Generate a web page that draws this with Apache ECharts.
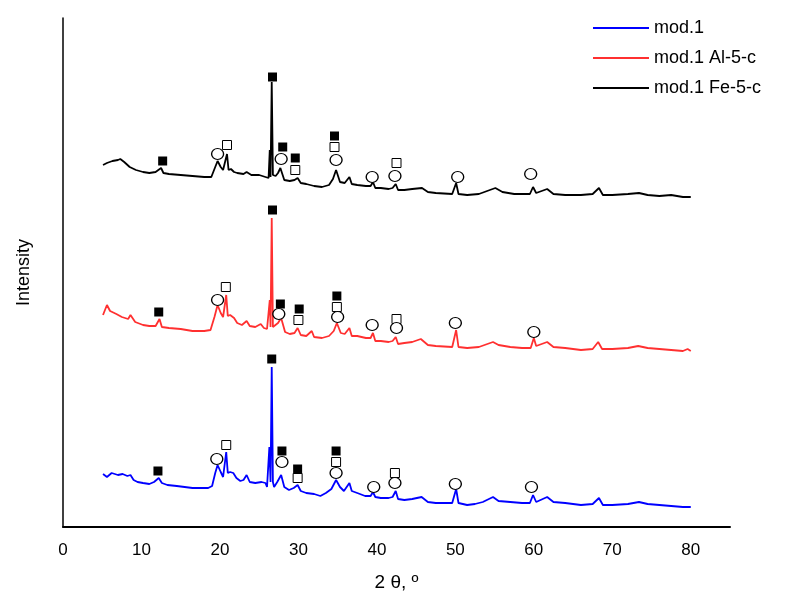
<!DOCTYPE html>
<html>
<head>
	<meta charset="utf-8"/>
	<title>XRD</title>
	<style>
		* { margin: 0; padding: 0; }
		html, body { width: 100%; height: 100%; background: #fff; }
		#main { width: 801px; height: 605px; }
	</style>
</head>
<body>
	<div id="main"></div>
	<script src="https://cdn.jsdelivr.net/npm/echarts@6/dist/echarts.min.js"></script>
	<script>
		// [2theta, intensity offset]
		var mod1 = [[5.1, 53], [5.6, 50], [6.2, 54], [7.0, 52], [7.6, 53], [8.2, 51], [8.6, 52], [9.0, 47], [9.5, 45], [10.2, 44], [11.0, 43], [11.6, 45], [12.2, 49], [12.6, 44], [13.3, 42], [14.5, 41], [15.5, 40], [16.5, 39], [17.5, 39], [18.5, 39], [19.0, 41], [19.4, 54], [19.7, 62], [20.1, 55], [20.4, 50], [20.8, 75], [21.0, 54], [21.3, 55], [21.7, 54], [22.1, 49], [22.6, 46], [23.0, 47], [23.4, 52], [23.8, 45], [24.5, 44], [25.3, 45], [25.8, 44], [26.0, 40], [26.3, 80], [26.45, 45], [26.6, 160], [26.75, 45], [26.9, 40], [27.3, 45], [27.8, 52], [28.2, 40], [28.8, 37], [29.4, 39], [29.9, 42], [30.3, 36], [31.0, 34], [32.0, 33], [32.8, 31], [33.5, 34], [34.2, 38], [34.8, 47], [35.3, 40], [35.8, 36], [36.5, 44], [36.8, 36], [37.5, 34], [38.5, 31], [39.2, 31], [39.5, 35], [39.8, 30], [40.5, 29], [41.5, 29], [42.0, 30], [42.4, 36], [42.7, 28], [43.5, 27], [44.5, 28], [45.7, 30], [46.5, 25], [47.5, 24], [48.5, 24], [49.6, 24], [50.1, 38], [50.4, 24], [51.5, 22], [52.5, 23], [53.5, 25], [54.8, 30], [55.5, 26], [57.0, 25], [58.5, 24], [59.5, 24], [59.9, 32], [60.3, 25], [61.7, 30], [62.5, 25], [64.0, 24], [66.0, 22], [67.5, 23], [68.3, 29], [68.8, 22], [70.0, 22], [72.0, 23], [73.4, 25], [74.5, 23], [76.0, 22], [77.5, 21], [79.0, 20], [80.0, 20]];

		var mod1Al = [[5.1, 212], [5.6, 222], [6.0, 216], [6.8, 213], [7.5, 210], [8.3, 208], [8.6, 212], [9.2, 205], [10.2, 202], [11.0, 201], [11.8, 201], [12.3, 208], [12.6, 200], [13.5, 199], [15.0, 198], [16.5, 196], [18.0, 196], [18.8, 197], [19.3, 210], [19.7, 222], [20.1, 214], [20.4, 210], [20.8, 232], [21.0, 211], [21.3, 212], [21.8, 209], [22.2, 204], [22.8, 202], [23.4, 206], [23.8, 201], [24.5, 200], [25.2, 203], [25.6, 199], [26.0, 198], [26.35, 227], [26.45, 200], [26.6, 309], [26.75, 200], [27.0, 200], [27.4, 204], [27.8, 209], [28.3, 195], [28.9, 193], [29.5, 194], [29.9, 199], [30.3, 192], [31.0, 191], [31.7, 196], [32.0, 190], [33.0, 189], [33.9, 191], [34.5, 196], [34.9, 204], [35.4, 194], [35.9, 193], [36.5, 199], [36.8, 191], [37.5, 191], [38.6, 189], [39.2, 189], [39.5, 194], [39.8, 186], [40.5, 186], [41.5, 185], [42.0, 186], [42.4, 190], [42.7, 183], [43.5, 184], [44.5, 185], [45.6, 188], [46.5, 182], [47.5, 181], [49.6, 180], [50.1, 197], [50.4, 180], [51.5, 179], [53.0, 180], [54.8, 185], [55.5, 182], [57.0, 180], [58.5, 179], [59.6, 179], [60.0, 189], [60.3, 181], [61.7, 185], [62.5, 180], [64.0, 179], [66.0, 177], [67.5, 178], [68.2, 185], [68.7, 178], [70.0, 178], [72.0, 179], [73.3, 181], [74.5, 179], [76.0, 178], [77.5, 177], [79.0, 176], [79.6, 178], [80.0, 176]];

		var mod1Fe = [[5.1, 362], [5.6, 364], [6.3, 366], [7.0, 367], [7.3, 368], [7.8, 365], [8.5, 360], [9.3, 357], [10.2, 355], [11.0, 354], [11.8, 355], [12.5, 359], [12.8, 354], [13.5, 353], [15.0, 352], [16.5, 351], [18.0, 350], [18.9, 350], [19.3, 358], [19.7, 366], [20.1, 360], [20.4, 357], [20.9, 373], [21.1, 357], [21.4, 358], [21.8, 355], [22.2, 354], [23.0, 353], [23.4, 355], [24.0, 352], [25.0, 352], [25.8, 350], [26.2, 349], [26.35, 377], [26.45, 350], [26.6, 445], [26.75, 352], [27.1, 351], [27.4, 354], [27.7, 359], [28.2, 347], [28.9, 346], [29.5, 347], [29.9, 349], [30.3, 344], [31.0, 343], [32.0, 341], [33.0, 340], [33.9, 342], [34.4, 348], [34.8, 357], [35.3, 345], [35.9, 344], [36.5, 350], [36.8, 343], [37.5, 342], [38.6, 341], [39.2, 341], [39.5, 345], [39.8, 339], [40.5, 339], [41.5, 338], [42.0, 339], [42.4, 343], [42.7, 337], [43.5, 337], [44.5, 338], [45.75, 339], [46.5, 335], [47.5, 334], [49.6, 333], [50.1, 344], [50.4, 333], [51.5, 332], [53.0, 333], [55.1, 339], [56.0, 335], [57.5, 333], [59.5, 333], [59.9, 340], [60.3, 334], [61.7, 338], [62.5, 333], [64.0, 332], [66.0, 332], [67.5, 333], [68.3, 339], [68.8, 332], [70.0, 332], [72.0, 333], [73.4, 334], [74.5, 332], [76.0, 331], [77.5, 332], [79.0, 330], [80.0, 330]];

		// phase markers placed above the peaks
		var filledSquares = [[12.1, 56], [26.6, 168], [27.9, 76], [29.9, 58], [34.8, 76],
			[12.2, 215], [26.7, 317], [27.7, 223], [30.1, 218], [34.9, 231],
			[12.7, 366], [26.7, 450], [28.0, 380], [29.6, 369], [34.6, 391]];
		var openSquares = [[20.8, 82], [29.9, 49], [34.8, 65], [42.3, 54],
			[20.75, 240], [30.0, 207], [34.9, 220], [42.5, 208],
			[20.9, 382], [29.6, 357], [34.6, 380], [42.5, 364]];
		var circles = [[19.6, 68], [27.9, 65], [34.8, 54], [39.6, 40], [42.3, 44], [50.0, 43], [59.7, 40],
			[19.7, 227], [27.5, 213], [35.0, 210], [39.4, 202], [42.5, 199], [50.0, 204], [60.0, 195],
			[19.7, 373], [27.8, 368], [34.8, 367], [39.4, 350], [42.3, 351], [50.3, 350], [59.6, 353]];

		var names = ['mod.1', 'mod.1 Al-5-c', 'mod.1 Fe-5-c'];
		var colors = ['#0000ff', '#ff3030', '#000000'];
		var traces = [mod1, mod1Al, mod1Fe];

		var font = 'Liberation Sans, Arial, sans-serif';
		var myChart = echarts.init(document.getElementById('main'));

		var series = traces.map(function (d, i) {
			return {
				name: names[i],
				type: 'line',
				data: d,
				showSymbol: false,
				silent: true,
				z: 2,
				lineStyle: { color: colors[i], width: 1.8 },
				itemStyle: { color: colors[i] }
			};
		});
		series.push({
			type: 'scatter', data: filledSquares, symbol: 'rect', symbolSize: 9, z: 5,
			itemStyle: { color: '#000', opacity: 1 }
		});
		series.push({
			type: 'scatter', data: openSquares, symbol: 'rect', symbolSize: 9, z: 5,
			itemStyle: { color: '#fff', borderColor: '#000', borderWidth: 1, opacity: 1 }
		});
		series.push({
			type: 'scatter', data: circles, symbol: 'circle', symbolSize: [12, 11], z: 5,
			itemStyle: { color: '#fff', borderColor: '#000', borderWidth: 1.3, opacity: 1 }
		});

		myChart.setOption({
			animation: false,
			legend: {
				data: names,
				orient: 'vertical',
				left: 588,
				top: 13,
				icon: 'rect',
				itemWidth: 56,
				itemHeight: 2,
				itemGap: 10,
				textStyle: { fontFamily: font, fontSize: 18, color: '#000', lineHeight: 20 }
			},
			grid: { left: 63, right: 71, top: 18, bottom: 78 },
			xAxis: {
				type: 'value',
				min: 0,
				max: 85,
				interval: 10,
				name: '2 θ, º',
				nameLocation: 'middle',
				nameGap: 46,
				nameTextStyle: { fontFamily: font, fontSize: 19, color: '#000' },
				axisLine: { lineStyle: { color: '#000', width: 2 } },
				axisTick: { show: false },
				splitLine: { show: false },
				axisLabel: { showMaxLabel: false, margin: 15, fontFamily: font, fontSize: 17, color: '#000' }
			},
			yAxis: {
				type: 'value',
				min: 0,
				max: 509,
				name: 'Intensity',
				nameLocation: 'middle',
				nameGap: 30,
				nameTextStyle: { fontFamily: font, fontSize: 18, color: '#000' },
				axisLine: { show: true, lineStyle: { color: '#000', width: 1.5 } },
				axisTick: { show: false },
				axisLabel: { show: false },
				splitLine: { show: false }
			},
			series: series
		});
	</script>
</body>
</html>
